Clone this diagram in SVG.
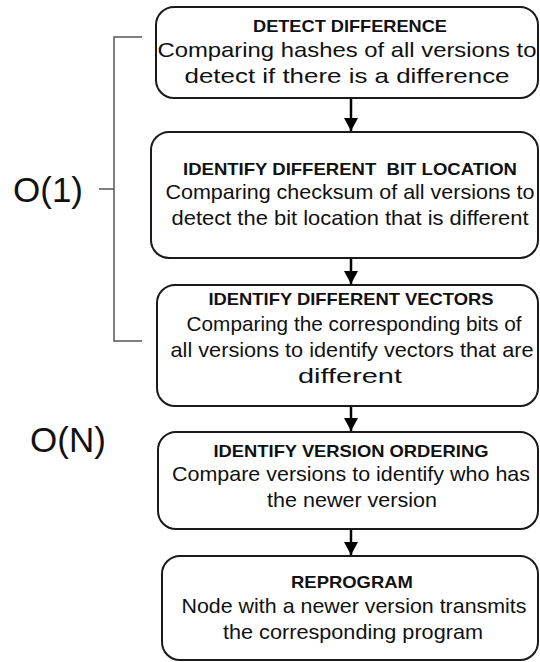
<svg xmlns="http://www.w3.org/2000/svg" width="540" height="662" viewBox="0 0 540 662">
<style>
.box{fill:#fff;stroke:#1a1a1a;stroke-width:2}
.t{font-family:"Liberation Sans",Arial,sans-serif;font-weight:bold;font-size:16.5px;fill:#111;text-anchor:middle}
.b{font-family:"Liberation Sans",Arial,sans-serif;font-size:21px;fill:#111;text-anchor:middle}
.big{font-family:"Liberation Sans",Arial,sans-serif;font-size:35px;fill:#111}
.br{fill:none;stroke:#555;stroke-width:1.5}
.arr{stroke:#000;stroke-width:2.5;fill:none}
</style>
<defs>
<marker id="ah" markerUnits="userSpaceOnUse" markerWidth="14" markerHeight="14" viewBox="0 0 14 14" refX="13" refY="7" orient="auto">
<path d="M0,0 L13,7 L0,14 Z" fill="#000"/>
</marker>
</defs>
<g id="bracket">
<path class="br" d="M142,37 H114 V341 H142"/>
<path class="br" d="M99,189 H114"/>
<text class="big" x="13" y="202">O(1)</text>
</g>
<g id="on">
<text class="big" x="30" y="452">O(N)</text>
</g>
<g id="connectors">
<line class="arr" x1="351" y1="99" x2="351" y2="131" marker-end="url(#ah)"/>
<line class="arr" x1="351" y1="259" x2="351" y2="284" marker-end="url(#ah)"/>
<line class="arr" x1="351" y1="407" x2="351" y2="431" marker-end="url(#ah)"/>
<line class="arr" x1="351" y1="530" x2="351" y2="555" marker-end="url(#ah)"/>
</g>
<g id="n1">
<rect class="box" x="156" y="7" width="382" height="91" rx="18"/>
<text class="t" x="350" y="32" textLength="194" lengthAdjust="spacingAndGlyphs">DETECT DIFFERENCE</text>
<text class="b" x="347" y="57" textLength="379" lengthAdjust="spacingAndGlyphs">Comparing hashes of all versions to</text>
<text class="b" x="347" y="83" textLength="325" lengthAdjust="spacingAndGlyphs">detect if there is a difference</text>
</g>
<g id="n2">
<rect class="box" x="151" y="132" width="387" height="126" rx="18"/>
<text class="t" x="350" y="175" textLength="334" lengthAdjust="spacingAndGlyphs" xml:space="preserve">IDENTIFY DIFFERENT  BIT LOCATION</text>
<text class="b" x="350" y="199" textLength="369" lengthAdjust="spacingAndGlyphs">Comparing checksum of all versions to</text>
<text class="b" x="350" y="225" textLength="357" lengthAdjust="spacingAndGlyphs">detect the bit location that is different</text>
</g>
<g id="n3">
<rect class="box" x="157" y="285" width="381" height="121" rx="18"/>
<text class="t" x="351" y="305" textLength="285" lengthAdjust="spacingAndGlyphs">IDENTIFY DIFFERENT VECTORS</text>
<text class="b" x="354" y="331" textLength="335" lengthAdjust="spacingAndGlyphs">Comparing the corresponding bits of</text>
<text class="b" x="352" y="357" textLength="363" lengthAdjust="spacingAndGlyphs">all versions to identify vectors that are</text>
<text class="b" x="350" y="383" textLength="104" lengthAdjust="spacingAndGlyphs">different</text>
</g>
<g id="n4">
<rect class="box" x="158" y="432" width="380" height="97" rx="18"/>
<text class="t" x="351" y="457" textLength="275" lengthAdjust="spacingAndGlyphs">IDENTIFY VERSION ORDERING</text>
<text class="b" x="351" y="481" textLength="358" lengthAdjust="spacingAndGlyphs">Compare versions to identify who has</text>
<text class="b" x="352" y="507" textLength="170" lengthAdjust="spacingAndGlyphs">the newer version</text>
</g>
<g id="n5">
<rect class="box" x="162" y="556" width="376" height="104" rx="18"/>
<text class="t" x="352" y="588" textLength="122" lengthAdjust="spacingAndGlyphs">REPROGRAM</text>
<text class="b" x="354" y="613" textLength="345" lengthAdjust="spacingAndGlyphs">Node with a newer version transmits</text>
<text class="b" x="353" y="639" textLength="260" lengthAdjust="spacingAndGlyphs">the corresponding program</text>
</g>
</svg>
